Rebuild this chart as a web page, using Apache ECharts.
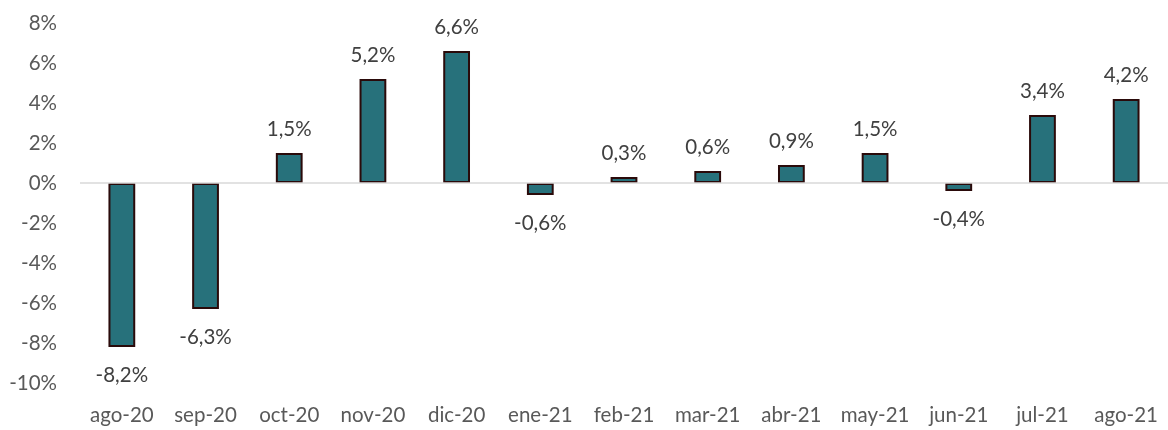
<!DOCTYPE html>
<html><head><meta charset="utf-8">
<script src="https://cdn.jsdelivr.net/npm/echarts@6/dist/echarts.min.js"></script>
<style>html,body{margin:0;padding:0;background:#fff}#c{width:1168px;height:430px}</style>
</head><body><div id="c"></div>
<script>
const categories = ['ago-20','sep-20','oct-20','nov-20','dic-20','ene-21','feb-21','mar-21','abr-21','may-21','jun-21','jul-21','ago-21'];
const values = [-8.2,-6.3,1.5,5.2,6.6,-0.6,0.3,0.6,0.9,1.5,-0.4,3.4,4.2];
const yTicks = [-10,-8,-6,-4,-2,0,2,4,6,8];

const FONT = 'Lato, "Open Sans", sans-serif';
const FS = 20.5;
const chart = echarts.init(document.getElementById('c'), null, {renderer:'canvas'});
chart.setOption({
  animation:false,
  grid:{left:80,right:-3,top:23,bottom:47,containLabel:false},
  xAxis:{type:'category',data:categories,
    axisLine:{show:false,onZero:false},axisTick:{show:false},
    axisLabel:{interval:0,hideOverlap:false,margin:22,color:'#595959',fontSize:FS,fontFamily:FONT}},
  yAxis:{type:'value',min:yTicks[0],max:yTicks[yTicks.length-1],interval:2,
    splitLine:{show:false},axisLine:{show:false},axisTick:{show:false},
    axisLabel:{margin:23,color:'#595959',fontSize:FS,fontFamily:FONT,formatter:v=>v+'%'}},
  series:[{type:'bar',barWidth:'32%',
    data:values.map(v=>({value:v,label:{position:v>=0?'top':'bottom',distance:v>=0?13:18}})),
    itemStyle:{color:'#27717B',borderColor:'#2a0a0a',borderWidth:2},
    label:{show:true,color:'#404040',fontSize:FS,fontFamily:FONT,
      formatter:p=>String(p.value.toFixed(1)).replace('.',',')+'%'},
    markLine:{silent:true,symbol:'none',label:{show:false},
      lineStyle:{color:'#d9d9d9',width:1.5,type:'solid'},data:[{yAxis:0}]},
    z:3}]
});
</script></body></html>
